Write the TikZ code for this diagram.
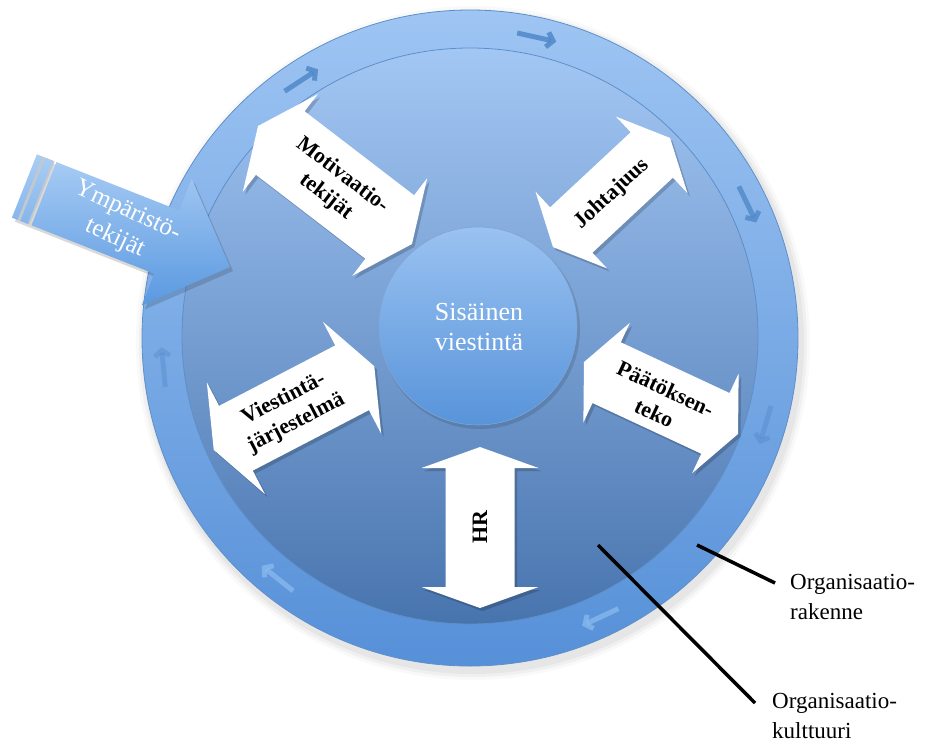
\documentclass[tikz,border=0pt]{standalone}
\usepackage{fontspec}
\IfFontExistsTF{LiberationSerif-Regular.ttf}
  {\setmainfont{LiberationSerif}[Extension=.ttf, UprightFont=*-Regular, BoldFont=*-Bold, ItalicFont=*-Italic, BoldItalicFont=*-BoldItalic]}
  {\setmainfont{Liberation Serif}}
\usetikzlibrary{arrows.meta,calc}
\definecolor{ringtop}{HTML}{9EC5F3}
\definecolor{ringbot}{HTML}{5690D8}
\definecolor{intop}{HTML}{A3C7F4}
\definecolor{inmid}{HTML}{7FA8DD}
\definecolor{inbot}{HTML}{4874AE}
\definecolor{ctop}{HTML}{9AC2F1}
\definecolor{cbot}{HTML}{5894DA}
\definecolor{edgeblue}{HTML}{5F8FC9}
\definecolor{ytop}{HTML}{AACDF5}
\definecolor{ybot}{HTML}{5A99E0}
\definecolor{rarr}{HTML}{4F88C8}
\definecolor{rarrl}{HTML}{8CBDF0}
\definecolor{gapgray}{HTML}{C2C8CE}
\newcommand{\dblpath}[4]{({-#1/2},0) -- ({-#1/2+#4},{-#2/2}) -- ({-#1/2+#4},{-#3/2}) -- ({#1/2-#4},{-#3/2}) -- ({#1/2-#4},{-#2/2}) -- ({#1/2},0) -- ({#1/2-#4},{#2/2}) -- ({#1/2-#4},{#3/2}) -- ({-#1/2+#4},{#3/2}) -- ({-#1/2+#4},{#2/2}) -- cycle}
\newcommand{\dblarr}[7]{%
  \fill[black,opacity=0.18,shift={(#1+2.5,#2+3)},rotate=#3] \dblpath{#4}{#5}{#6}{#7};
  \fill[white,shift={(#1,#2)},rotate=#3] \dblpath{#4}{#5}{#6}{#7};}
\begin{document}
\begin{tikzpicture}[x=1pt,y=-1pt,
  lbl/.style={font=\fontsize{22}{27}\selectfont\bfseries, align=center, text=black, inner sep=0pt},
  whitelbl/.style={align=center, text=white, inner sep=0pt},
  callout/.style={font=\fontsize{23}{30}\selectfont, align=left, inner sep=0pt, anchor=west},
  leader/.style={line width=3.5pt, black},
  ringarrow/.style={line width=5pt, -{Straight Barb[length=6pt,width=15pt]}}]
\useasboundingbox (0,0) rectangle (925,745);

% soft shadow of the big circle
\foreach \r/\o in {337/0.025, 334/0.035, 331/0.045}
  \fill[black,opacity=\o] (473,343) circle (\r);

% outer ring
\node[circle, minimum size=656pt, inner sep=0pt, draw=edgeblue, line width=0.8pt,
      top color=ringtop, bottom color=ringbot] (outer) at (470,338) {};

% small circulating arrows on the ring
\foreach \a/\col/\op in {123.2/rarr/0.85, 77.5/rarr/0.85, 25.7/rarr/0.8, -16.4/rarr/0.4, -65/rarrl/0.7, -128.7/rarrl/0.7, 185.4/rarr/0.4}
  \draw[ringarrow, draw=\col, draw opacity=\op]
    ({470+308*cos(\a)-20*sin(\a)},{338-308*sin(\a)-20*cos(\a)}) --
    ({470+308*cos(\a)+20*sin(\a)},{338-308*sin(\a)+20*cos(\a)});

% inner disk
\node[circle, minimum size=576pt, inner sep=0pt, draw=edgeblue, line width=0.8pt,
      top color=intop, middle color=inmid, bottom color=inbot] (inner) at (470,336) {};

% centre circle
\fill[black,opacity=0.12] (480,329) circle (100);
\node[circle, minimum size=198pt, inner sep=0pt, draw=edgeblue!80, line width=0.6pt,
      top color=ctop, bottom color=cbot] (centre) at (478,326) {};
\node[whitelbl, font=\fontsize{26}{30}\selectfont] (centretext) at (479,327) {Sisäinen\\viestintä};

% white double arrows
\dblarr{335}{185}{-37.5}{194}{123}{80}{28}
\dblarr{611.5}{192.5}{43}{160}{105}{62}{25}
\dblarr{661}{398}{-25}{170}{110}{67}{25}
\dblarr{294}{408}{27.5}{181}{126}{73}{25}
\dblarr{480}{527.5}{90}{161}{117}{69}{21}

\node[lbl, rotate=-37.5] (motiv) at (334,186) {Motivaatio-\\tekijät};
\node[lbl, rotate=43] (johto) at (612,194) {Johtajuus};
\node[lbl, rotate=-25] (paato) at (660,401) {Päätöksen-\\teko};
\node[lbl, rotate=27.5] (viest) at (290,411) {Viestintä-\\järjestelmä};
\node[lbl, rotate=90] (hr) at (480,527) {HR};

% striped arrow (Ympäristötekijät)
\fill[black,opacity=0.15,shift={(233,271)},rotate=-21.5]
  (0,0) -- (-68,-68) -- (-68,-34) -- (-221,-34) -- (-221,34) -- (-68,34) -- (-68,68) -- cycle;
\fill[gapgray,shift={(230,267)},rotate=-21.5] (-216,-34) rectangle (-202,34);
\shade[top color=ytop, bottom color=ybot, shift={(230,267)},rotate=-21.5]
  (0,0) -- (-68,-68) -- (-68,-34) -- (-200,-34) -- (-200,34) -- (-68,34) -- (-68,68) -- cycle
  (-212,-34) rectangle (-204,34)
  (-221,-34) rectangle (-215,34);
\node[whitelbl, font=\fontsize{25}{30}\selectfont, rotate=-25] (ymp) at (121,225) {Ympäristö-\\tekijät};

% callouts
\node[callout] (ork) at (790,597) {Organisaatio-\\rakenne};
\node[callout] (okt) at (772,716) {Organisaatio-\\kulttuuri};
\coordinate (p1) at (697,545);
\coordinate (p2) at (598,545);
\draw[leader] (p1) -- ([xshift=-15pt,yshift=14pt]ork.west);
\draw[leader] (p2) -- ([xshift=-17pt,yshift=13pt]okt.west);
\end{tikzpicture}
\end{document}
